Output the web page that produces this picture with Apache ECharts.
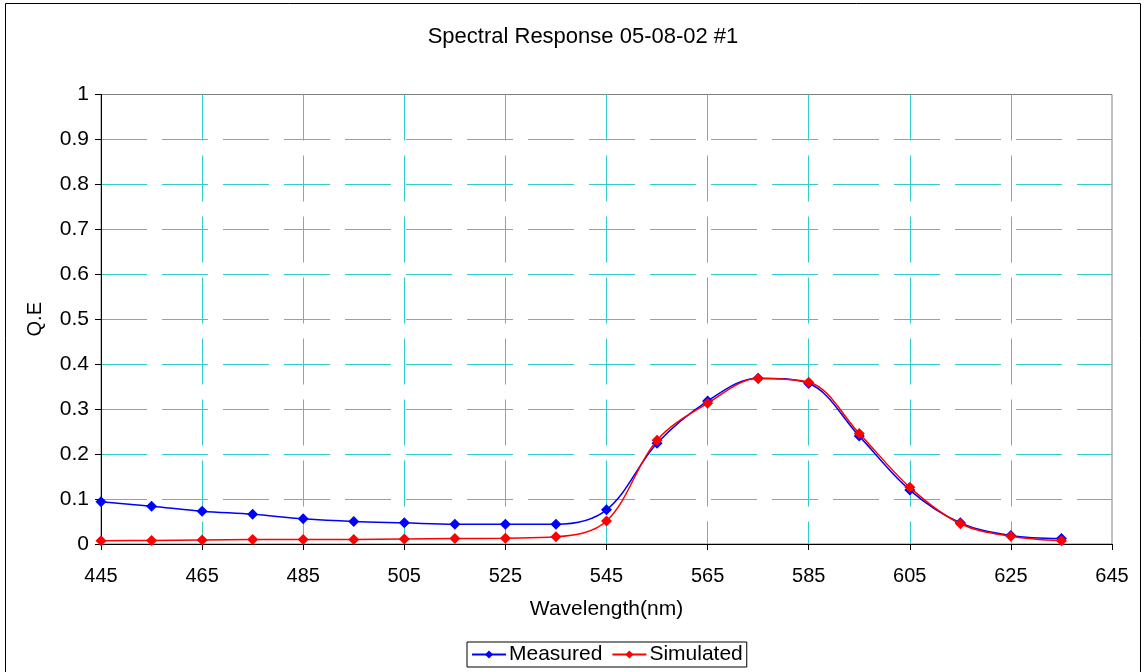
<!DOCTYPE html>
<html>
<head>
<meta charset="utf-8">
<script src="https://cdn.jsdelivr.net/npm/echarts@6/dist/echarts.min.js"></script>
<style>
  html, body { margin: 0; padding: 0; background: #fff; }
  #chart { width: 1144px; height: 672px; }
</style>
</head>
<body>
<div id="chart"></div>
<script>
// Wavelengths (nm) of the sampled points
const wavelengths = [445, 455, 465, 475, 485, 495, 505, 515, 525, 535,
                     545, 555, 565, 575, 585, 595, 605, 615, 625, 635];
// Quantum efficiency, measured
const measured = [0.094, 0.084, 0.073, 0.066, 0.056, 0.050, 0.047, 0.044, 0.044, 0.044,
                  0.076, 0.224, 0.318, 0.369, 0.357, 0.240, 0.120, 0.047, 0.019, 0.012];
// Quantum efficiency, simulated
const simulated = [0.007, 0.008, 0.009, 0.010, 0.010, 0.010, 0.011, 0.012, 0.013, 0.016,
                   0.051, 0.231, 0.313, 0.368, 0.360, 0.246, 0.126, 0.045, 0.017, 0.007];

const xMin = 445, xMax = 645, xStep = 20;
const yMin = 0, yMax = 1, yStep = 0.1;

const FONT = '"Liberation Sans", Arial, sans-serif';
const GRID_COLOR = '#33CCCC';
const dashed = { color: GRID_COLOR, width: 1, type: [46, 15] };

const pairs = (ys) => wavelengths.map((x, i) => [x, ys[i]]);

const chart = echarts.init(document.getElementById('chart'), null, { renderer: 'canvas' });

chart.setOption({
  backgroundColor: '#fff',
  animation: false,
  textStyle: { fontFamily: FONT },
  title: {
    text: 'Spectral Response 05-08-02 #1',
    left: 583, top: 26, textAlign: 'center', padding: 0,
    textStyle: { fontFamily: FONT, fontSize: 22, fontWeight: 'normal', color: '#000' }
  },
  graphic: [
    // outer frame of the chart
    { type: 'rect', shape: { x: 5.5, y: 3.5, width: 1135, height: 700 },
      style: { fill: 'none', stroke: '#000', lineWidth: 1 }, silent: true, z: -1 }
  ],
  legend: {
    data: ['Measured', 'Simulated'],
    left: 467, top: 642,
    itemWidth: 34, itemHeight: 10, itemGap: 9,
    padding: [2, 4, 2, 4],
    borderColor: '#000', borderWidth: 1,
    textStyle: { fontFamily: FONT, fontSize: 21, color: '#000', padding: [0, 0, 0, -2] }
  },
  grid: { left: 101, right: 32, top: 94.5, bottom: 128, show: true,
          borderColor: '#808080', borderWidth: 1, backgroundColor: '#fff' },
  xAxis: {
    type: 'value', min: xMin, max: xMax, interval: xStep,
    name: 'Wavelength(nm)', nameLocation: 'middle', nameGap: 55,
    nameTextStyle: { fontFamily: FONT, fontSize: 21, color: '#000' },
    axisLine: { show: true, onZero: false, lineStyle: { color: '#000', width: 1 } },
    axisTick: { show: true, inside: false, length: 6, lineStyle: { color: '#000' } },
    axisLabel: { fontFamily: FONT, fontSize: 20, color: '#000', margin: 22 },
    splitLine: { show: true, showMaxLine: false, lineStyle: dashed }
  },
  yAxis: {
    type: 'value', min: yMin, max: yMax, interval: yStep,
    name: 'Q.E', nameLocation: 'middle', nameGap: 56, nameRotate: 90,
    nameTextStyle: { fontFamily: FONT, fontSize: 20, color: '#000' },
    axisLine: { show: true, lineStyle: { color: '#000', width: 1 } },
    axisTick: { show: true, inside: false, length: 6, lineStyle: { color: '#000' } },
    axisLabel: { fontFamily: FONT, fontSize: 21, color: '#000', margin: 12,
                 formatter: (v) => String(Math.round(v * 10) / 10) },
    splitLine: { show: true, showMaxLine: false, lineStyle: dashed }
  },
  series: [
    {
      name: 'Measured', type: 'line', data: pairs(measured),
      smooth: 0.35, symbol: 'diamond', symbolSize: 11,
      lineStyle: { color: '#0000FF', width: 1.5 },
      itemStyle: { color: '#0000FF' }, z: 3
    },
    {
      name: 'Simulated', type: 'line', data: pairs(simulated),
      smooth: 0.35, symbol: 'diamond', symbolSize: 11,
      lineStyle: { color: '#FF0000', width: 1.5 },
      itemStyle: { color: '#FF0000' }, z: 4
    }
  ]
});
</script>
</body>
</html>
